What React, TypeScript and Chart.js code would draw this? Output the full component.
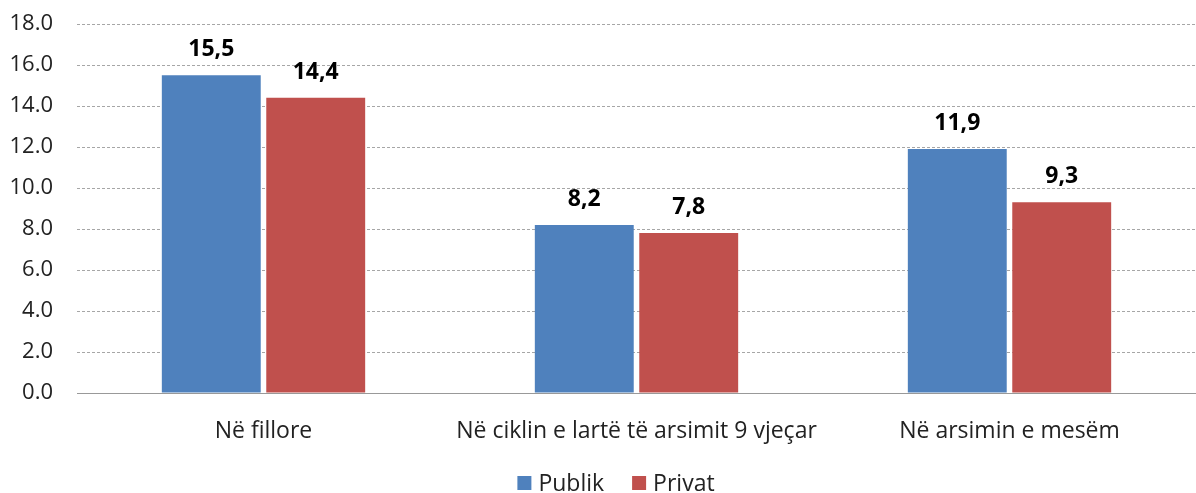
import React, { useEffect, useRef } from "react";
import { Chart, registerables } from "chart.js";

Chart.register(...registerables);

const categories = ["Në fillore", "Në ciklin e lartë të arsimit 9 vjeçar", "Në arsimin e mesëm"];
const publik = [15.5, 8.2, 11.9];
const privat = [14.4, 7.8, 9.3];
const seriesNames = ["Publik", "Privat"];
const seriesColors = ["#4F81BD", "#C0504D"];
const yTicks = [0, 2, 4, 6, 8, 10, 12, 14, 16, 18];

const FONT = "'Open Sans', Lato, sans-serif";

const labelPlugin = {
  id: "valueLabels",
  afterDatasetsDraw(chart: any) {
    const ctx = chart.ctx;
    ctx.save();
    ctx.font = `bold 23px ${FONT}`;
    ctx.fillStyle = "#000";
    ctx.textAlign = "center";
    ctx.textBaseline = "alphabetic";
    chart.data.datasets.forEach((ds: any, i: number) => {
      const meta = chart.getDatasetMeta(i);
      meta.data.forEach((bar: any, j: number) => {
        const v = ds.data[j] as number;
        ctx.fillText(v.toFixed(1).replace(".", ","), bar.x, bar.y - 19);
      });
    });
    ctx.restore();
  },
};

const legendPlugin = {
  id: "bottomLegend",
  afterDraw(chart: any) {
    const ctx = chart.ctx;
    ctx.save();
    ctx.font = `23px ${FONT}`;
    ctx.textBaseline = "middle";
    ctx.textAlign = "left";
    const box = 14;
    const boxGap = 7;
    const itemGap = 28;
    const items = chart.data.datasets.map((ds: any) => ({ text: ds.label, color: ds.backgroundColor }));
    const widths = items.map((it: any) => box + boxGap + ctx.measureText(it.text).width);
    const total = widths.reduce((a: number, b: number) => a + b, 0) + itemGap * (items.length - 1);
    let x = (chart.width - total) / 2 + 18;
    const y = 483;
    items.forEach((it: any, i: number) => {
      ctx.fillStyle = it.color;
      ctx.fillRect(x, y - box / 2, box, box);
      ctx.fillStyle = "#222";
      ctx.fillText(it.text, x + box + boxGap, y + 1);
      x += widths[i] + itemGap;
    });
    ctx.restore();
  },
};

export default function App() {
  const ref = useRef<HTMLCanvasElement>(null);
  useEffect(() => {
    const chart = new Chart(ref.current!, {
      type: "bar",
      data: {
        labels: categories,
        datasets: [
          { label: seriesNames[0], data: publik, backgroundColor: seriesColors[0], borderWidth: 0 },
          { label: seriesNames[1], data: privat, backgroundColor: seriesColors[1], borderWidth: 0 },
        ],
      },
      options: {
        responsive: false,
        animation: false,
        maintainAspectRatio: false,
        layout: { padding: { top: 24, right: 0, left: 0, bottom: 0 } },
        datasets: { bar: { categoryPercentage: 0.56, barPercentage: 0.947 } },
        plugins: {
          legend: { display: false },
          tooltip: { enabled: false },
        },
        scales: {
          x: {
            grid: { display: false },
            border: { color: "#999", width: 1 },
            ticks: { font: { family: FONT, size: 23 }, color: "#222", padding: 17, maxRotation: 0 },
            afterFit: (s: any) => {
              s.height = 100;
              s.paddingTop = 0;
              s.paddingBottom = 0;
            },
          },
          y: {
            min: 0,
            max: 18,
            afterBuildTicks: (s: any) => { s.ticks = yTicks.map((v) => ({ value: v })); },
            grid: { color: "#a6a6a6", lineWidth: 1, tickLength: 0, drawTicks: false },
            border: { display: false, dash: [3, 2] },
            ticks: {
              font: { family: FONT, size: 22 },
              color: "#222",
              padding: 24,
              callback: (v: any) => Number(v).toFixed(1),
            },
            afterFit: (s: any) => {
              s.width = 77;
              s.paddingTop = 0;
              s.paddingBottom = 0;
            },
          },
        },
      },
      plugins: [labelPlugin, legendPlugin],
    });
    return () => chart.destroy();
  }, []);
  return (
    <div style={{ position: "absolute", left: 0, top: 0, width: 1196, height: 493, background: "#fff" }}>
      <canvas ref={ref} width={1196} height={493} style={{ width: 1196, height: 493 }} />
    </div>
  );
}
